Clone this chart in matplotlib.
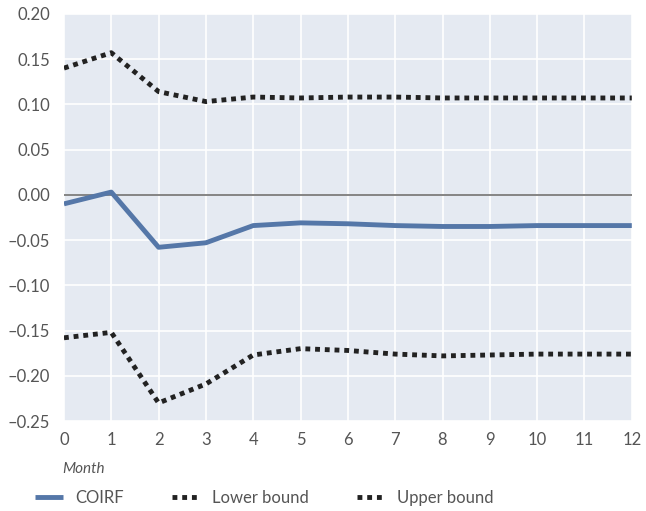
import matplotlib
matplotlib.use('Agg')
import matplotlib.pyplot as plt

months = list(range(13))
coirf = [-0.010, 0.003, -0.058, -0.053, -0.034, -0.031, -0.032, -0.034, -0.035, -0.035, -0.034, -0.034, -0.034]
lower = [-0.158, -0.152, -0.230, -0.209, -0.177, -0.170, -0.172, -0.176, -0.178, -0.177, -0.176, -0.176, -0.176]
upper = [0.140, 0.157, 0.114, 0.103, 0.108, 0.107, 0.108, 0.108, 0.107, 0.107, 0.107, 0.107, 0.107]
yticks = [0.20, 0.15, 0.10, 0.05, 0.00, -0.05, -0.10, -0.15, -0.20, -0.25]

plt.rcParams['font.family'] = ['Lato', 'DejaVu Sans']
txt = '#555555'

fig = plt.figure(figsize=(6.46, 5.11), dpi=100)
ax = fig.add_axes([0.099, 0.176, 0.879, 0.797])
ax.set_facecolor('#E5EAF2')

ax.axhline(0, color='#707070', lw=1.2, zorder=2)
l1, = ax.plot(months, coirf, color='#5577A8', lw=3.5, zorder=3, solid_capstyle='butt')
l2, = ax.plot(months, lower, color='#222222', lw=3.5, ls=(0, (1, 1)), zorder=3)
l3, = ax.plot(months, upper, color='#222222', lw=3.5, ls=(0, (1, 1)), zorder=3)

ax.set_xlim(0, 12)
ax.set_ylim(-0.25, 0.20)
ax.set_xticks(months)
ax.set_yticks(yticks)
ax.set_yticklabels(['%.2f' % v if v >= 0 else '\u2013%.2f' % -v for v in yticks])
ax.grid(True, color='white', lw=1.2)
ax.set_axisbelow(True)
for s in ax.spines.values():
    s.set_visible(False)
ax.tick_params(length=0, labelsize=12, labelcolor=txt, pad=8)
ax.tick_params(axis='y', pad=10)

fig.text(0.097, 0.075, 'Month', style='italic', fontsize=11, color=txt)

fig.legend([l1, l2, l3], ['COIRF', 'Lower bound', 'Upper bound'],
           loc='lower left', bbox_to_anchor=(0.031, -0.019), ncol=3, frameon=False,
           fontsize=12, labelcolor=txt, handlelength=1.7, columnspacing=2.9,
           handletextpad=0.7)

plt.savefig('out.png', dpi=100)
